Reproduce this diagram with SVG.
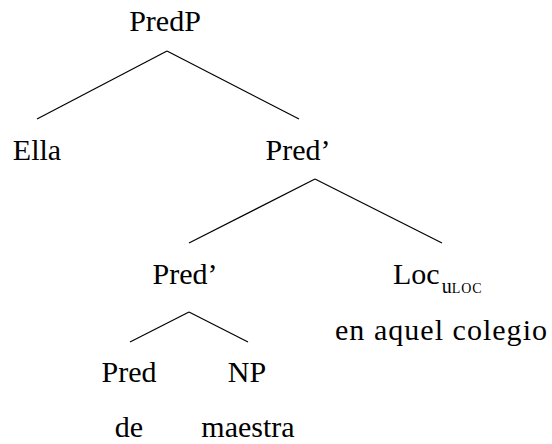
<svg xmlns="http://www.w3.org/2000/svg" width="552" height="444" viewBox="0 0 552 444">
<style>
.e line{stroke:#000;stroke-width:1.2}
text{font-family:'Liberation Serif','Times New Roman',serif;font-size:30px;fill:#000;text-anchor:middle}
</style>
<rect width="552" height="444" fill="#fff"/>
<g class="e" id="edges">
<line x1="167" y1="51" x2="37" y2="119"/>
<line x1="167" y1="51" x2="299" y2="119"/>
<line x1="315" y1="179" x2="189" y2="243"/>
<line x1="315" y1="179" x2="442" y2="243"/>
<line x1="189" y1="312" x2="130" y2="342"/>
<line x1="189" y1="312" x2="248" y2="342"/>
</g>
<g id="predp"><text x="165" y="31">PredP</text></g>
<g id="ella"><text x="37" y="160">Ella</text></g>
<g id="predbar1"><text x="298" y="160">Pred’</text></g>
<g id="predbar2"><text x="185" y="284">Pred’</text></g>
<g id="loc"><text x="393" y="284" style="text-anchor:start">Loc<tspan font-size="20" dy="9" dx="2">u</tspan><tspan font-size="14" letter-spacing="1">LOC</tspan></text></g>
<g id="locphrase"><text x="441" y="340" textLength="212" lengthAdjust="spacing">en aquel colegio</text></g>
<g id="pred"><text x="129" y="382">Pred</text></g>
<g id="np"><text x="247" y="382">NP</text></g>
<g id="de"><text x="129" y="437">de</text></g>
<g id="maestra"><text x="248" y="437">maestra</text></g>
</svg>
